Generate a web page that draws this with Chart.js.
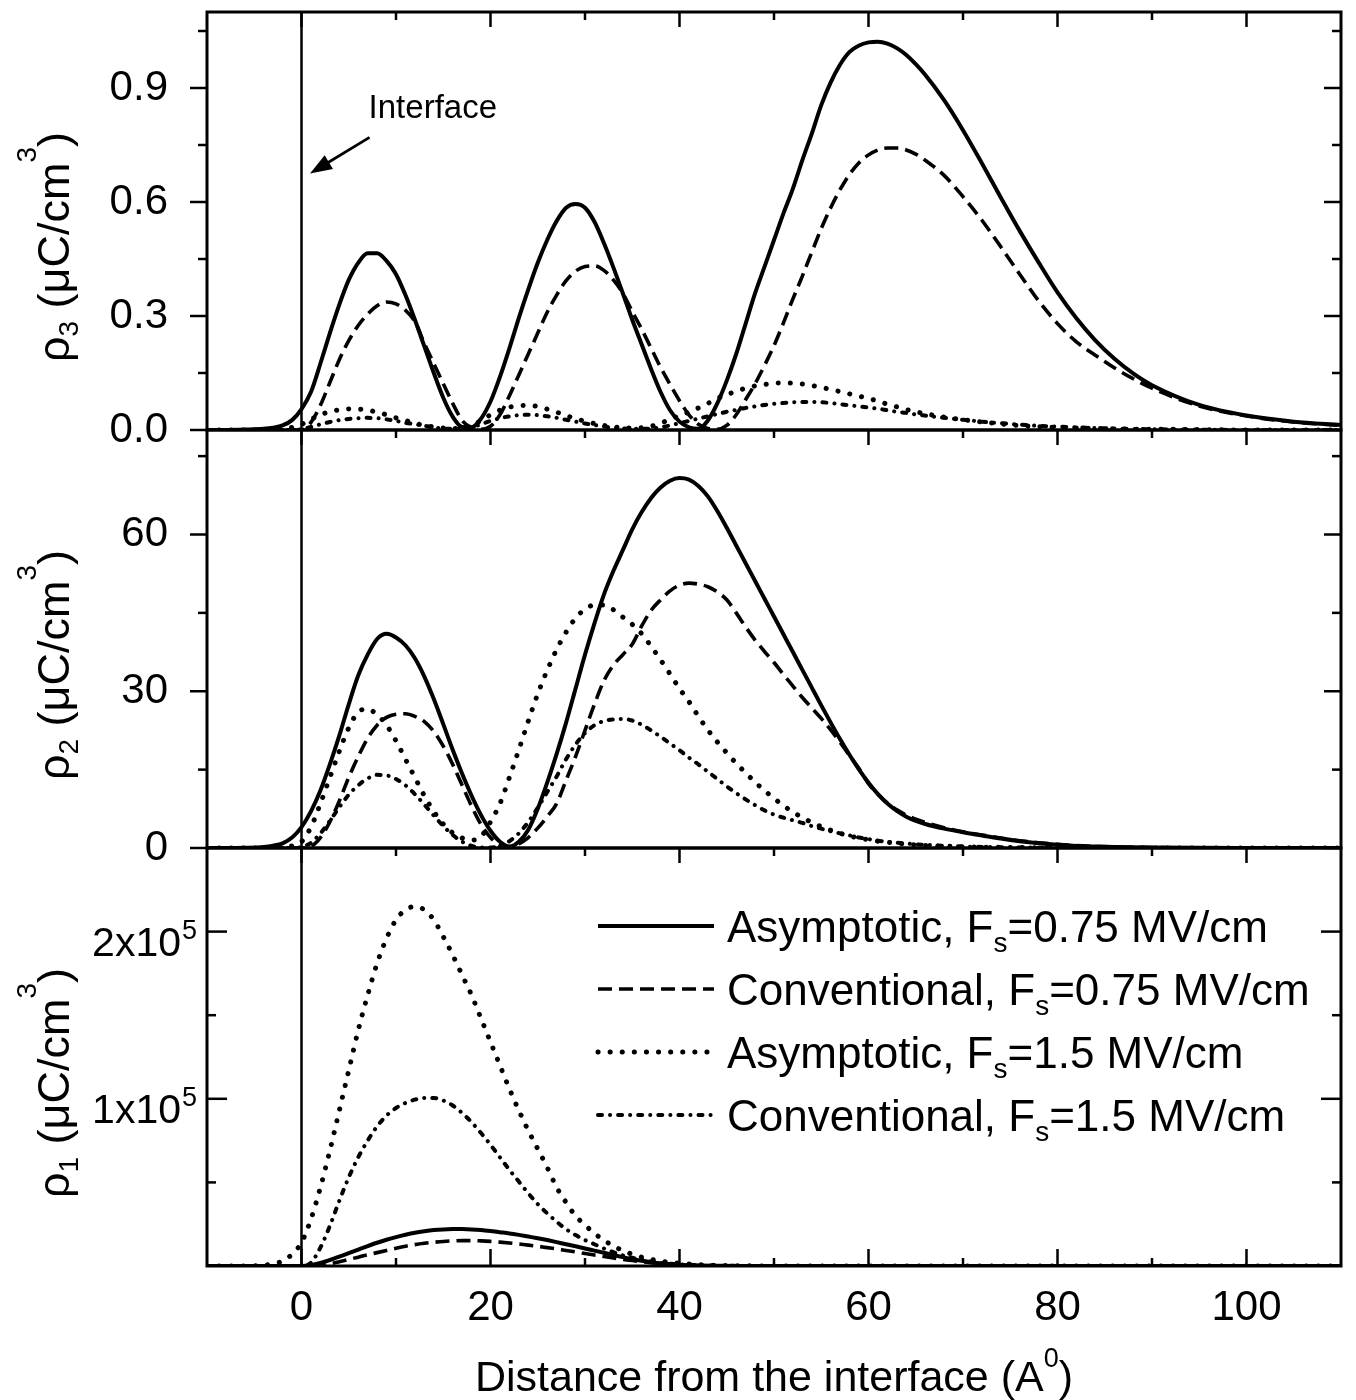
<!DOCTYPE html>
<html>
<head>
<meta charset="utf-8">
<title>Charge density near the interface</title>
<script src="https://cdn.jsdelivr.net/npm/chart.js@4.4.1/dist/chart.umd.min.js"></script>
<style>
  body { margin: 0; background: #fff; }
  #wrap { width: 1356px; height: 1400px; }
</style>
</head>
<body>
<div id="wrap"><canvas id="rhoChart" width="1356" height="1400"></canvas></div>
<script>
// ---- Data ----

// x grid (Angstrom) shared by the rho3 and rho2 panels
const X_UPPER = [-10, -8, -6, -4, -3, -2, -1,
  0, 1, 2, 3, 4, 5, 6, 7, 8, 9,
  10, 11, 12, 13, 14, 15, 16, 17, 18, 19,
  20, 21, 22, 23, 24, 25, 26, 27, 28, 29,
  30, 31, 32, 33, 34, 35, 36, 37, 38, 39,
  40, 41, 42, 43, 44, 45, 46, 47, 48, 49,
  50, 51, 52, 53, 54, 55, 56, 57, 58, 59,
  60, 61, 62, 63, 64, 65, 66,
  68, 70, 72, 74, 76, 78, 80, 82, 84, 86, 88, 90,
  95, 100, 105, 110];

// rho3 (uC/cm^3)
const RHO3_ASYM_075 = [0, 0, 0.001, 0.003, 0.006, 0.012, 0.026,
  0.055, 0.1, 0.175, 0.255, 0.33, 0.395, 0.44, 0.465, 0.465, 0.445,
  0.41, 0.355, 0.29, 0.22, 0.15, 0.085, 0.035, 0.008, 0.007, 0.03,
  0.075, 0.14, 0.215, 0.295, 0.37, 0.44, 0.5, 0.55, 0.585, 0.595,
  0.585, 0.548, 0.492, 0.428, 0.36, 0.29, 0.225, 0.16, 0.1, 0.052,
  0.022, 0.007, 0.003, 0.025, 0.07, 0.13, 0.2, 0.28, 0.36, 0.43,
  0.5, 0.57, 0.635, 0.71, 0.78, 0.855, 0.915, 0.962, 0.995, 1.012,
  1.02, 1.022, 1.017, 1.005, 0.987, 0.963, 0.935,
  0.868, 0.789, 0.702, 0.612, 0.524, 0.441, 0.362, 0.294, 0.236, 0.188, 0.149, 0.118,
  0.066, 0.038, 0.022, 0.013];
const RHO3_CONV_075 = [0, 0, 0, 0, 0, 0, 0,
  0, 0.02, 0.065, 0.125, 0.185, 0.235, 0.275, 0.305, 0.327, 0.337,
  0.332, 0.315, 0.285, 0.228, 0.175, 0.122, 0.07, 0.025, 0.006, 0.002,
  0.01, 0.04, 0.09, 0.145, 0.2, 0.255, 0.31, 0.355, 0.393, 0.418,
  0.43, 0.432, 0.42, 0.395, 0.36, 0.312, 0.265, 0.215, 0.165, 0.12,
  0.077, 0.04, 0.015, 0.004, 0.002, 0.012, 0.04, 0.08, 0.122, 0.17,
  0.222, 0.282, 0.345, 0.405, 0.468, 0.53, 0.585, 0.633, 0.673, 0.703,
  0.724, 0.737, 0.742, 0.742, 0.737, 0.726, 0.71,
  0.67, 0.614, 0.552, 0.482, 0.41, 0.34, 0.28, 0.232, 0.197, 0.164, 0.135, 0.11,
  0.063, 0.037, 0.021, 0.012];
const RHO3_ASYM_15 = [0, 0, 0, 0, 0.001, 0.003, 0.007,
  0.015, 0.028, 0.04, 0.048, 0.053, 0.055, 0.055, 0.052, 0.047, 0.04,
  0.032, 0.025, 0.018, 0.012, 0.008, 0.005, 0.004, 0.006, 0.012, 0.025,
  0.04, 0.052, 0.06, 0.064, 0.065, 0.062, 0.055, 0.047, 0.038, 0.03,
  0.023, 0.017, 0.012, 0.008, 0.006, 0.005, 0.006, 0.01, 0.018, 0.028,
  0.038, 0.047, 0.058, 0.07, 0.083, 0.093, 0.102, 0.11, 0.116, 0.12,
  0.123, 0.124, 0.123, 0.121, 0.117, 0.112, 0.107, 0.101, 0.095, 0.089,
  0.083, 0.076, 0.068, 0.061, 0.054, 0.048, 0.043,
  0.034, 0.027, 0.021, 0.016, 0.012, 0.009, 0.007, 0.005, 0.004, 0.003, 0.002, 0.002,
  0.001, 0, 0, 0];
const RHO3_CONV_15 = [0, 0, 0, 0, 0, 0, 0,
  0.002, 0.008, 0.015, 0.021, 0.026, 0.029, 0.031, 0.032, 0.031, 0.028,
  0.024, 0.019, 0.015, 0.011, 0.007, 0.004, 0.003, 0.003, 0.007, 0.015,
  0.024, 0.031, 0.036, 0.039, 0.04, 0.039, 0.036, 0.032, 0.027, 0.022,
  0.017, 0.013, 0.009, 0.006, 0.004, 0.003, 0.003, 0.004, 0.007, 0.012,
  0.018, 0.024, 0.03, 0.036, 0.042, 0.048, 0.053, 0.058, 0.062, 0.066,
  0.069, 0.071, 0.073, 0.074, 0.074, 0.073, 0.071, 0.068, 0.065, 0.062,
  0.059, 0.056, 0.052, 0.048, 0.045, 0.041, 0.038,
  0.032, 0.027, 0.022, 0.018, 0.014, 0.011, 0.009, 0.007, 0.005, 0.004, 0.003, 0.002,
  0.001, 0, 0, 0];

// rho2 (uC/cm^3)
const RHO2_ASYM_075 = [0, 0, 0.05, 0.2, 0.45, 0.9, 2,
  4, 7, 11, 16, 21.5, 27.5, 33, 37, 40, 41,
  40.3, 38.8, 36.3, 32.8, 28.5, 23.7, 18.8, 14.2, 10, 6.3,
  3.3, 1.2, 0.3, 1.2, 3.5, 7.5, 12.5, 18, 24, 30.5,
  37, 43, 48.5, 53, 57, 61, 64.3, 67, 69, 70.3,
  70.8, 70.5, 69.3, 67.3, 64.5, 61.3, 57.9, 54.5, 51.1, 47.7,
  44.3, 40.9, 37.5, 34.1, 30.7, 27.3, 24, 20.8, 17.8, 15,
  12.5, 10.3, 8.5, 7.1, 6, 5.2, 4.6,
  3.7, 3, 2.4, 1.8, 1.3, 0.9, 0.6, 0.4, 0.28, 0.18, 0.12, 0.08,
  0.03, 0.01, 0, 0];
const RHO2_CONV_075 = [0, 0, 0, 0, 0, 0, 0,
  0, 0.3, 2, 5, 9, 13.5, 17.5, 21, 23.5, 25,
  25.6, 25.7, 25.2, 24.2, 22.3, 19.5, 16, 12, 8, 4.5,
  2, 0.5, 0.2, 0.8, 2, 3.8, 6, 8.5, 13, 17.5,
  22.5, 27.5, 32, 35, 37, 39, 42.5, 45.5, 47.5, 49.2,
  50.3, 50.7, 50.5, 50, 49, 47.5, 45, 42.3, 39.8, 37.6,
  35.5, 33.2, 31, 28.8, 26.8, 24.8, 22.6, 20.2, 17.7, 15.2,
  12.3, 10.3, 8.6, 7.3, 6.3, 5.5, 4.9,
  3.9, 3.1, 2.5, 1.9, 1.4, 1.0, 0.7, 0.45, 0.3, 0.2, 0.13, 0.08,
  0.03, 0.01, 0, 0];
const RHO2_ASYM_15 = [0, 0, 0, 0, 0.05, 0.15, 0.4,
  1.2, 4, 8.5, 13.5, 18.5, 23, 26, 26.6, 25.5, 23.5,
  20.5, 17, 13.5, 10, 7, 4.6, 2.9, 1.9, 1.5, 2.2,
  5, 8.5, 13.5, 18.8, 24.3, 29.5, 34, 38, 41.3, 44,
  45.7, 46.5, 46.5, 45.6, 44.2, 42.8, 41, 38.6, 36, 33.3,
  30.5, 28, 25.2, 22.6, 20.3, 18.2, 16.2, 14.4, 12.6, 11,
  9.5, 8.1, 6.9, 5.8, 4.9, 4.1, 3.4, 2.8, 2.3, 1.9,
  1.6, 1.3, 1.1, 0.9, 0.75, 0.6, 0.5,
  0.35, 0.25, 0.17, 0.12, 0.08, 0.05, 0.03, 0.02, 0.01, 0.01, 0.01, 0.01,
  0, 0, 0, 0];
const RHO2_CONV_15 = [0, 0, 0, 0, 0, 0, 0,
  0.2, 1, 2.8, 5.2, 7.8, 10.2, 12, 13.3, 14, 13.9,
  13.2, 12, 10.3, 8.3, 6.2, 4.2, 2.5, 1.2, 0.4, 0.1,
  0.1, 0.4, 1.3, 2.8, 5, 7.7, 10.7, 13.7, 17, 19.8,
  22, 23.5, 24.3, 24.6, 24.7, 24.4, 23.6, 22.5, 21.3, 20,
  18.7, 17.3, 16, 14.6, 13.2, 11.8, 10.5, 9.3, 8.2, 7.2,
  6.4, 5.8, 5.3, 4.8, 4.2, 3.7, 3.2, 2.8, 2.4, 2,
  1.7, 1.4, 1.2, 1, 0.85, 0.7, 0.6,
  0.42, 0.3, 0.2, 0.14, 0.1, 0.07, 0.05, 0.03, 0.02, 0.01, 0.01, 0,
  0, 0, 0, 0];

// x grid for the rho1 panel
const X_LOWER = [-10, -8, -6, -4, -3, -2, -1,
  0, 1, 2, 3, 4, 5, 6, 7, 8, 9,
  10, 11, 12, 13, 14, 15, 16, 17, 18, 19,
  20, 21, 22, 23, 24, 25, 26, 27, 28, 29,
  30, 31, 32, 33, 34, 35, 36, 37, 38, 39,
  40, 42, 44, 46, 48, 50, 55, 60, 70, 80, 90, 100, 110];

// rho1 (uC/cm^3)
const RHO1_ASYM_075 = [0, 0, 0, 0, 0, 0, 0,
  0, 500, 1800, 3600, 5600, 7700, 9800, 11900, 13900, 15700,
  17300, 18700, 19900, 20800, 21500, 21900, 22100, 22100, 21900, 21500,
  20900, 20200, 19500, 18600, 17600, 16600, 15500, 14300, 13000, 11800,
  10500, 9200, 7900, 6600, 5300, 4100, 3100, 2300, 1600, 1100,
  700, 300, 100, 0, 0, 0, 0, 0, 0, 0, 0, 0, 0];
const RHO1_CONV_075 = [0, 0, 0, 0, 0, 0, 0,
  0, 0, 300, 1200, 2500, 3900, 5300, 6700, 8000, 9300,
  10600, 11800, 12800, 13600, 14200, 14700, 15000, 15200, 15200, 15000,
  14700, 14300, 13800, 13200, 12500, 11800, 11000, 10200, 9300, 8400,
  7500, 6600, 5700, 4800, 4000, 3300, 2600, 2000, 1500, 1100,
  700, 300, 100, 0, 0, 0, 0, 0, 0, 0, 0, 0, 0];
const RHO1_ASYM_15 = [0, 0, 0, 500, 1200, 3000, 7000,
  14000, 28000, 47000, 69000, 93000, 117000, 141000, 162000, 181000, 196000,
  207000, 213000, 215000, 213000, 207000, 197000, 186000, 174000, 162000, 148000,
  134000, 120000, 106000, 93000, 81000, 70000, 59000, 47000, 38000, 30000,
  24500, 19500, 15500, 12000, 9200, 7000, 5300, 4000, 3000, 2200,
  1600, 800, 400, 200, 100, 0, 0, 0, 0, 0, 0, 0, 0];
const RHO1_CONV_15 = [0, 0, 0, 0, 0, 0, 0,
  0, 2000, 11000, 24000, 39000, 53000, 65000, 75000, 83500, 90000,
  94500, 97500, 99500, 100500, 100500, 99000, 96000, 91500, 86000, 79500,
  72500, 65000, 57500, 50500, 43500, 37000, 31500, 26500, 22000, 18500,
  15500, 13000, 10500, 8300, 6400, 4900, 3700, 2700, 2000, 1400,
  1000, 500, 200, 100, 0, 0, 0, 0, 0, 0, 0, 0, 0];

// ticks
const X_MAJOR = [0, 20, 40, 60, 80, 100];
const X_MINOR = [10, 30, 50, 70, 90];
const TOP_MAJOR = [0, 0.3, 0.6, 0.9];
const TOP_MINOR = [0.15, 0.45, 0.75, 1.05];
const MID_MAJOR = [0, 30, 60];
const MID_MINOR = [15, 45, 75];
const BOT_MAJOR = [100000, 200000];
const BOT_MINOR = [50000, 150000];

// legend text
const SERIES_NAMES = ['Asymptotic', 'Conventional', 'Asymptotic', 'Conventional'];
const SERIES_FIELDS = ['0.75', '0.75', '1.5', '1.5'];

// ---- Styles ----
const FONT = '"Liberation Sans", Arial, Helvetica, sans-serif';
const LINE_STYLES = [
  { borderWidth: 4, borderDash: [], borderCapStyle: 'butt' },
  { borderWidth: 3.6, borderDash: [14, 7], borderCapStyle: 'butt' },
  { borderWidth: 5, borderDash: [0.1, 12], borderCapStyle: 'round' },
  { borderWidth: 4, borderDash: [4, 8, 0.1, 8], borderCapStyle: 'round' }
];

function points(xs, ys) {
  return xs.map((x, i) => ({ x: x, y: ys[i] }));
}

function panelSets(xs, series, axisId) {
  return series.map((ys, i) => Object.assign({
    label: SERIES_NAMES[i] + ', Fs=' + SERIES_FIELDS[i] + ' MV/cm',
    data: points(xs, ys),
    yAxisID: axisId,
    borderColor: '#000',
    pointRadius: 0,
    fill: false,
    cubicInterpolationMode: 'monotone'
  }, LINE_STYLES[i]));
}

function yAxis(min, max, major, showLabels, fmt) {
  return {
    type: 'linear',
    min: min,
    max: max,
    position: 'left',
    stack: 'panels',
    stackWeight: 1,
    grid: { display: false },
    border: { display: false },
    afterBuildTicks: s => { s.ticks = major.map(v => ({ value: v })); },
    ticks: {
      display: showLabels,
      padding: 31,
      color: '#000',
      font: { family: FONT, size: 42 },
      callback: fmt
    },
    afterFit: s => { s.width = 207; s.paddingTop = 0; s.paddingBottom = 0; }
  };
}

// draw text made of pieces (sub/superscripts) starting at x
function richText(ctx, parts, x, y, align) {
  let total = 0;
  parts.forEach(p => {
    ctx.font = p.size + 'px ' + FONT;
    p.w = ctx.measureText(p.t).width;
    total += p.w;
  });
  let cx = align === 'center' ? x - total / 2 : x;
  ctx.textAlign = 'left';
  ctx.textBaseline = 'alphabetic';
  parts.forEach(p => {
    ctx.font = p.size + 'px ' + FONT;
    ctx.fillText(p.t, cx, y + (p.dy || 0));
    cx += p.w;
  });
}

function seg(ctx, x1, y1, x2, y2) {
  ctx.beginPath();
  ctx.moveTo(x1, y1);
  ctx.lineTo(x2, y2);
  ctx.stroke();
}

// frame, mirrored ticks, interface marker, titles and legend
const panelDecor = {
  id: 'panelDecor',
  afterDraw(chart) {
    const ctx = chart.ctx;
    const area = chart.chartArea;
    const sx = chart.scales.x;
    const yTop = chart.scales.yTop, yMid = chart.scales.yMid, yBot = chart.scales.yBot;
    const panels = [
      { s: yTop, major: TOP_MAJOR, minor: TOP_MINOR, out: true, idx: '3' },
      { s: yMid, major: MID_MAJOR, minor: MID_MINOR, out: true, idx: '2' },
      { s: yBot, major: BOT_MAJOR, minor: BOT_MINOR, out: false, idx: '1' }
    ];
    ctx.save();
    ctx.strokeStyle = '#000';
    ctx.fillStyle = '#000';
    ctx.setLineDash([]);
    ctx.lineCap = 'butt';

    // interface line at x = 0
    ctx.lineWidth = 2.5;
    const x0 = sx.getPixelForValue(0);
    seg(ctx, x0, area.top, x0, area.bottom);

    // frames
    ctx.lineWidth = 3;
    panels.forEach(p => ctx.strokeRect(area.left, p.s.top, area.right - area.left, p.s.bottom - p.s.top));

    // y ticks (left outward for rho3/rho2, inward for rho1; right inward)
    ctx.lineWidth = 2.5;
    panels.forEach(p => {
      const dir = p.out ? -1 : 1;
      const mark = (v, len) => {
        const y = p.s.getPixelForValue(v);
        seg(ctx, area.left, y, area.left + dir * len, y);
        seg(ctx, area.right, y, area.right - len, y);
      };
      p.major.forEach(v => mark(v, p.out ? 17 : 20));
      p.minor.forEach(v => mark(v, 9));
      // x ticks along the top of each panel
      X_MAJOR.forEach(v => { const x = sx.getPixelForValue(v); seg(ctx, x, p.s.top, x, p.s.top + 15); });
      X_MINOR.forEach(v => { const x = sx.getPixelForValue(v); seg(ctx, x, p.s.top, x, p.s.top + 8); });
    });
    X_MAJOR.forEach(v => { const x = sx.getPixelForValue(v); seg(ctx, x, area.bottom, x, area.bottom - 17); });
    X_MINOR.forEach(v => { const x = sx.getPixelForValue(v); seg(ctx, x, area.bottom, x, area.bottom - 8); });

    // rho1 tick labels with exponent
    BOT_MAJOR.forEach(v => {
      const y = yBot.getPixelForValue(v);
      ctx.font = '41px ' + FONT;
      ctx.textAlign = 'right';
      ctx.textBaseline = 'alphabetic';
      ctx.fillText((v / 100000) + 'x10', 181, y + 24);
      ctx.font = '27px ' + FONT;
      ctx.textAlign = 'left';
      ctx.fillText('5', 182, y + 7);
    });

    // y titles
    panels.forEach(p => {
      ctx.save();
      ctx.translate(69, (p.s.top + p.s.bottom) / 2 + 26);
      ctx.rotate(-Math.PI / 2);
      richText(ctx, [
        { t: '\u03C1', size: 45 },
        { t: p.idx, size: 28, dy: 9 },
        { t: ' (\u03BCC/cm', size: 45 },
        { t: '3', size: 28, dy: -33 },
        { t: ')', size: 45 }
      ], 0, 0, 'center');
      ctx.restore();
    });

    // x title
    richText(ctx, [
      { t: 'Distance from the interface (A', size: 43 },
      { t: '0', size: 27, dy: -24 },
      { t: ')', size: 43 }
    ], (area.left + area.right) / 2, 1391, 'center');

    // interface annotation
    ctx.font = '33px ' + FONT;
    ctx.textAlign = 'left';
    ctx.textBaseline = 'alphabetic';
    ctx.fillText('Interface', sx.getPixelForValue(7.1), yTop.getPixelForValue(0.82));
    const ax1 = sx.getPixelForValue(7.2), ay1 = yTop.getPixelForValue(0.77);
    const ax2 = sx.getPixelForValue(0.9), ay2 = yTop.getPixelForValue(0.675);
    ctx.lineWidth = 2.8;
    const ang = Math.atan2(ay2 - ay1, ax2 - ax1);
    seg(ctx, ax1, ay1, ax2 - 12 * Math.cos(ang), ay2 - 12 * Math.sin(ang));
    ctx.beginPath();
    ctx.moveTo(ax2, ay2);
    ctx.lineTo(ax2 - 22 * Math.cos(ang) + 8 * Math.sin(ang), ay2 - 22 * Math.sin(ang) - 8 * Math.cos(ang));
    ctx.lineTo(ax2 - 22 * Math.cos(ang) - 8 * Math.sin(ang), ay2 - 22 * Math.sin(ang) + 8 * Math.cos(ang));
    ctx.closePath();
    ctx.fill();

    // legend inside the rho1 panel
    const lx0 = 598, lx1 = 714, tx = 727;
    chart.data.datasets.slice(0, 4).forEach((ds, i) => {
      const y = yBot.top + 78 + i * 63;
      ctx.lineWidth = ds.borderWidth;
      ctx.lineCap = ds.borderCapStyle;
      ctx.setLineDash(ds.borderDash);
      seg(ctx, lx0, y, lx1, y);
      ctx.setLineDash([]);
      richText(ctx, [
        { t: SERIES_NAMES[i] + ', F', size: 44 },
        { t: 's', size: 28, dy: 10 },
        { t: '=' + SERIES_FIELDS[i] + ' MV/cm', size: 44 }
      ], tx, y + 16, 'left');
    });
    ctx.restore();
  }
};

const datasets = []
  .concat(panelSets(X_UPPER, [RHO3_ASYM_075, RHO3_CONV_075, RHO3_ASYM_15, RHO3_CONV_15], 'yTop'))
  .concat(panelSets(X_UPPER, [RHO2_ASYM_075, RHO2_CONV_075, RHO2_ASYM_15, RHO2_CONV_15], 'yMid'))
  .concat(panelSets(X_LOWER, [RHO1_ASYM_075, RHO1_CONV_075, RHO1_ASYM_15, RHO1_CONV_15], 'yBot'));

new Chart(document.getElementById('rhoChart'), {
  type: 'line',
  data: { datasets: datasets },
  options: {
    responsive: false,
    animation: false,
    layout: { padding: { top: 12, right: 15, left: 0, bottom: 0 } },
    plugins: { legend: { display: false }, tooltip: { enabled: false } },
    scales: {
      x: {
        type: 'linear',
        min: -10,
        max: 110,
        position: 'bottom',
        grid: { display: false },
        border: { display: false },
        afterBuildTicks: s => { s.ticks = X_MAJOR.map(v => ({ value: v })); },
        ticks: {
          padding: 9,
          maxRotation: 0,
          autoSkip: false,
          color: '#000',
          font: { family: FONT, size: 42 }
        },
        afterFit: s => { s.height = 134; s.paddingLeft = 0; s.paddingRight = 0; }
      },
      yBot: yAxis(0, 250000, BOT_MAJOR, false, v => ''),
      yMid: yAxis(0, 80, MID_MAJOR, true, v => String(v)),
      yTop: yAxis(0, 1.1, TOP_MAJOR, true, v => v.toFixed(1))
    }
  },
  plugins: [panelDecor]
});
</script>
</body>
</html>
